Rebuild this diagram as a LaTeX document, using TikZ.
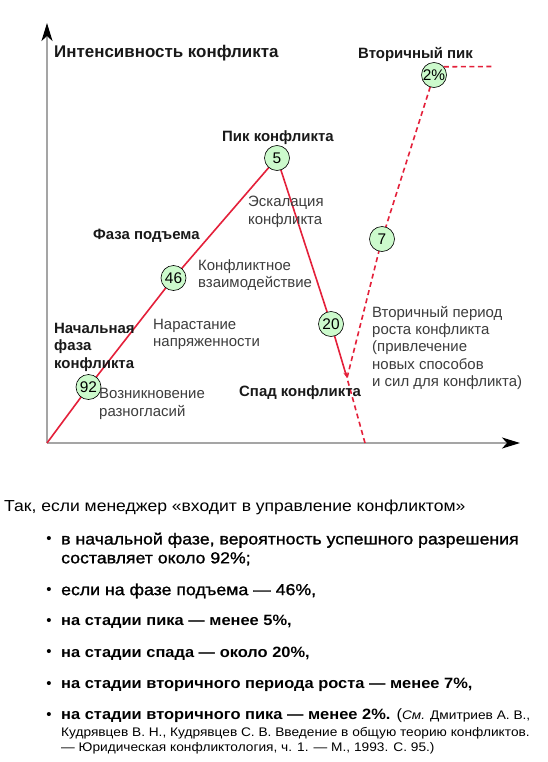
\documentclass[tikz,border=0pt]{standalone}
\usepackage{fontspec}
\setmainfont{Liberation Sans}
\newfontfamily\widefont[FakeStretch=1.1]{Liberation Sans}
\newfontfamily\semiboldwide[FakeStretch=1.11,FakeBold=1.2]{Liberation Sans}
\usetikzlibrary{arrows.meta}
\definecolor{redl}{RGB}{228,32,58}
\definecolor{circfill}{RGB}{204,250,204}
\definecolor{axisgray}{RGB}{165,165,165}
\definecolor{lblgray}{RGB}{60,60,60}
\definecolor{lblblack}{RGB}{25,25,25}
\tikzset{
  axisline/.style={axisgray,line width=2bp},
  solidred/.style={redl,line width=1.6bp},
  dashred/.style={redl,line width=1.6bp,dash pattern=on 5bp off 3.5bp},
  num/.style={circle,draw=black,line width=0.6bp,fill=circfill,minimum size=25bp,inner sep=0pt,font=\fontsize{15.5}{15.5}\selectfont},
  boldlbl/.style={anchor=west,inner sep=0pt,align=left,font=\fontsize{15}{17.5}\selectfont\bfseries,text=lblblack},
  reglbl/.style={anchor=west,inner sep=0pt,align=left,font=\fontsize{15}{17.5}\selectfont,text=lblgray},
  bodytext/.style={anchor=west,inner sep=0pt,align=left,font=\widefont\fontsize{16}{19}\selectfont,text=black},
  itemsemi/.style={anchor=west,inner sep=0pt,align=left,font=\semiboldwide\fontsize{16}{19}\selectfont,text=black},
  itemtext/.style={anchor=west,inner sep=0pt,align=left,font=\widefont\fontsize{15}{19}\selectfont\bfseries,text=black},
  smalltext/.style={anchor=west,inner sep=0pt,align=left,font=\widefont\fontsize{12.5}{15}\selectfont,text=black},
  bulletmark/.style={anchor=center,inner sep=0pt,font=\fontsize{15}{15}\selectfont,text=black},
}
\begin{document}
\begin{tikzpicture}[x=1bp,y=-1bp]
\useasboundingbox[fill=white] (0,0) rectangle (548,762);

% axes
\coordinate (O) at (47,443);
\coordinate (Ytop) at (47,23);
\coordinate (Xend) at (520,443);
\draw[axisline,-{Stealth[black,length=18bp,width=11bp,inset=5bp]}] (O) -- (Ytop);
\draw[axisline,-{Stealth[black,length=18bp,width=11bp,inset=5bp]}] (O) -- (Xend);

% key points
\coordinate (D) at (347,378);
\coordinate (Xcross) at (365,443);
\coordinate (H) at (492,66.5);

% circle positions
\coordinate (p92) at (88.5,387);
\coordinate (p46) at (173.5,278);
\coordinate (p5) at (277,158);
\coordinate (p20) at (331,324);
\coordinate (p7) at (382,239);
\coordinate (p2) at (434,75);

% lines
\draw[solidred] (O) -- (p92) -- (p46) -- (p5);
\draw[solidred,-{Stealth[length=6bp,width=4bp]}] (p5) -- (p20) -- (D);
\draw[dashred] (Xcross) -- (D) -- (p7) -- (p2);

\node[num] (n92) at (p92) {92};
\node[num] (n46) at (p46) {46};
\node[num] (n5) at (p5) {5};
\node[num] (n20) at (p20) {20};
\node[num] (n7) at (p7) {7};
\node[num] (n2) at (p2) {2\%};
\draw[dashred] (n2.40) -- (H);

% labels
\node[boldlbl,font=\fontsize{17}{19}\selectfont\bfseries] (lint) at (54,53) {Интенсивность конфликта};
\node[boldlbl] (lsec) at (358,54) {Вторичный пик};
\node[boldlbl] (lpeak) at (222,138) {Пик конфликта};
\node[reglbl] (lesc) at (248,212) {Эскалация\\конфликта};
\node[boldlbl] (lrise) at (93,236) {Фаза подъема};
\node[reglbl] (linter) at (198,275) {Конфликтное\\взаимодействие};
\node[reglbl] (ltens) at (153,334.5) {Нарастание\\напряженности};
\node[boldlbl] (linit) at (54,347) {Начальная\\фаза\\конфликта};
\node[reglbl] (ldis) at (99,404) {Возникновение\\разногласий};
\node[boldlbl] (lfall) at (239,393) {Спад конфликта};
\node[reglbl] (lsecper) at (372,348) {Вторичный период\\роста конфликта\\(привлечение\\новых способов\\и сил для конфликта)};

% text below
\node[bodytext] (intro) at (4,507) {Так, если менеджер «входит в управление конфликтом»};

\node[bulletmark] (b1) at (49,540) {•};
\node[itemsemi] (t1) at (61,549) {в начальной фазе, вероятность успешного разрешения\\составляет около 92\%;};
\node[bulletmark] (b2) at (49,591) {•};
\node[itemsemi] (t2) at (61,591) {если на фазе подъема — 46\%,};
\node[bulletmark] (b3) at (49,622) {•};
\node[itemtext] (t3) at (61,622) {на стадии пика — менее 5\%,};
\node[bulletmark] (b4) at (49,653.5) {•};
\node[itemtext] (t4) at (61,653.5) {на стадии спада — около 20\%,};
\node[bulletmark] (b5) at (49,685) {•};
\node[itemtext] (t5) at (61,685) {на стадии вторичного периода роста — менее 7\%,};
\node[bulletmark] (b6) at (49,716) {•};
\node[itemtext] (t6) at (61,716) {на стадии вторичного пика — менее 2\%. {\mdseries(\fontsize{12.5}{15}\selectfont\itshape См.\upshape{} Дмитриев А. В.,}};
\node[smalltext] (t6b) at (61,733) {Кудрявцев В. Н., Кудрявцев С. В. Введение в общую теорию конфликтов.};
\node[smalltext] (t6c) at (61,748) {— Юридическая конфликтология, ч. 1. — М., 1993. С. 95.)};
\end{tikzpicture}
\end{document}
